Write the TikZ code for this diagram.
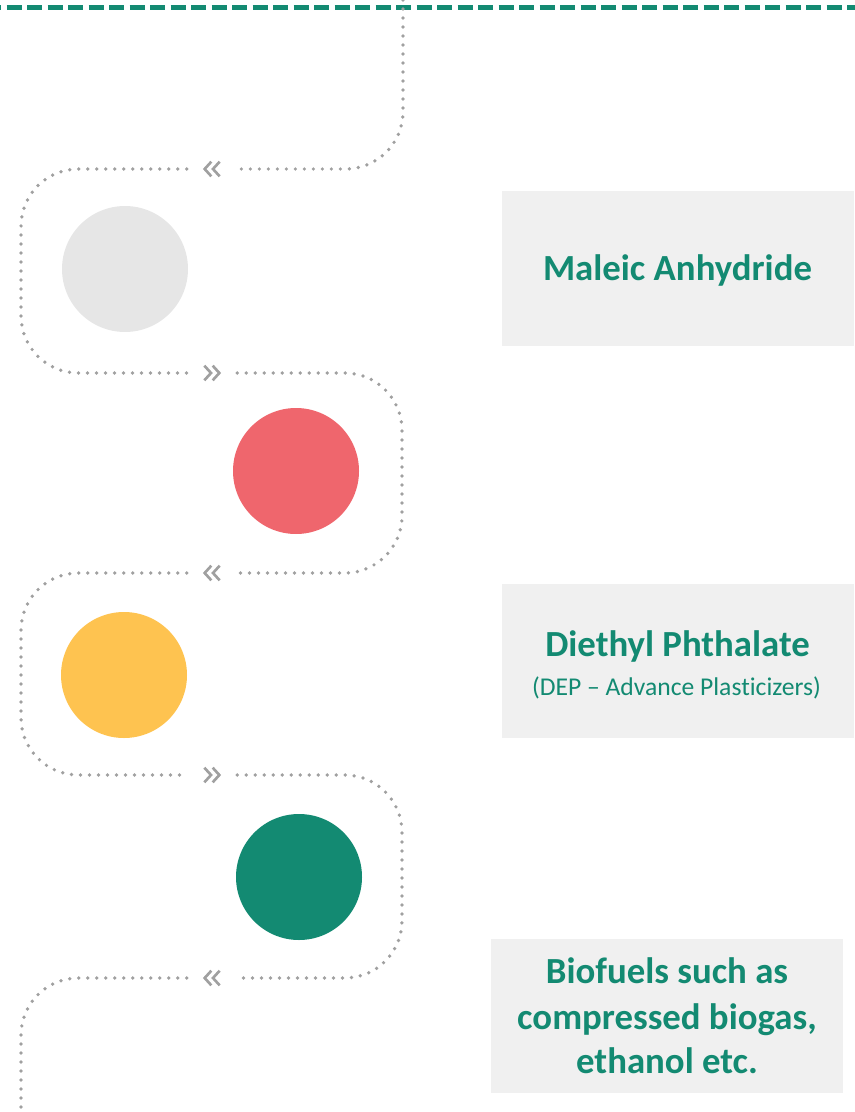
\documentclass[tikz,border=0pt]{standalone}
\usepackage{fontspec}
\setmainfont{Carlito}[Ligatures={NoCommon}]
\usetikzlibrary{calc}
\definecolor{tealc}{HTML}{138A72}
\definecolor{dotgray}{HTML}{A0A0A0}
\definecolor{boxgray}{HTML}{F0F0F0}
\definecolor{cgray}{HTML}{E6E6E6}
\definecolor{cred}{HTML}{EF666D}
\definecolor{cyellow}{HTML}{FEC350}
\definecolor{cteal}{HTML}{138A72}
\begin{document}
\begin{tikzpicture}[x=0.75pt,y=-0.75pt,
  dotline/.style={draw=dotgray, line width=2.8pt, line cap=round, dash pattern=on 0pt off 6.75pt, rounded corners=43pt},
  chevleft/.style={minimum width=37.5pt, minimum height=15pt, inner sep=0pt,
    path picture={\foreach \dx in {-5.5pt,0.75pt}{\draw[dotgray, line width=2pt]
      ([xshift=\dx+5pt,yshift=5.5pt]path picture bounding box.center) -- ++(-5pt,-5.5pt) -- ++(5pt,-5.5pt);}}},
  chevright/.style={minimum width=37.5pt, minimum height=15pt, inner sep=0pt,
    path picture={\foreach \dx in {5.5pt,-0.75pt}{\draw[dotgray, line width=2pt]
      ([xshift=\dx-5pt,yshift=5.5pt]path picture bounding box.center) -- ++(5pt,-5.5pt) -- ++(-5pt,-5.5pt);}}},
  dot/.style={circle, minimum size=94.5pt, inner sep=0pt},
  panel/.style={fill=boxgray, minimum width=264pt, minimum height=116pt, inner sep=0pt},
  title/.style={text=tealc, font=\fontsize{27.6}{33.75}\selectfont\bfseries, anchor=base, inner sep=0pt},
  subtitle/.style={text=tealc, font=\fontsize{19.2}{22}\selectfont, anchor=base, inner sep=0pt}
]
\useasboundingbox (0,0) rectangle (854,1112);
% top dashed rule
\draw[tealc, line width=3.75pt, dash pattern=on 11.25pt off 4.125pt] (-14,7.5) -- (870,7.5);

% panels
\node[panel] (p1) at (678,268.5) {};
\node[panel] (p2) at (678,661) {};
\node[panel] (p3) at (667,1016) {};

\node[title] (t1) at (677.5,281) {Maleic Anhydride};
\node[title] (t2) at (677.5,656) {Diethyl Phthalate};
\node[subtitle] (s2) at (676.5,695) {(DEP – Advance Plasticizers)};
\node[title] (t3a) at (667,983) {Biofuels such as};
\node[title] (t3b) at (667,1029) {compressed biogas,};
\node[title] (t3c) at (667,1073) {ethanol etc.};

% circles
\node[dot, fill=cgray] (d1) at (125,269) {};
\node[dot, fill=cred] (d2) at (296,471) {};
\node[dot, fill=cyellow] (d3) at (124,675) {};
\node[dot, fill=cteal] (d4) at (299,877) {};

% chevrons
\node[chevleft] (k1) at (212,169) {};
\node[chevright] (k2) at (212,373) {};
\node[chevleft] (k3) at (212,573) {};
\node[chevright] (k4) at (212,775) {};
\node[chevleft] (k5) at (212,978) {};

\coordinate (start) at (403,0);
\coordinate (finish) at (21,1112);

% dotted winding path
\draw[dotline] (start) -- (403,169) -- (k1.east);
\draw[dotline] (k1.west) -- (21,169) -- (21,373) -- (k2.west);
\draw[dotline] (k2.east) -- (402,373) -- (402,573) -- (k3.east);
\draw[dotline] (k3.west) -- (21,573) -- (21,775) -- (k4.west);
\draw[dotline] (k4.east) -- (402,775) -- (402,978) -- (k5.east);
\draw[dotline] (k5.west) -- (21,978) -- (finish);
\end{tikzpicture}
\end{document}
